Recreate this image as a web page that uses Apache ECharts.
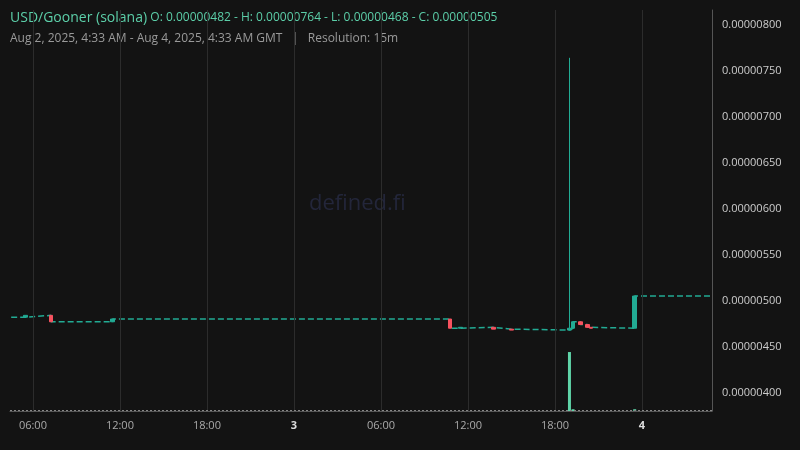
<!DOCTYPE html>
<html><head><meta charset="utf-8">
<script src="https://cdn.jsdelivr.net/npm/echarts@6/dist/echarts.min.js"></script>
<style>html,body{margin:0;background:#131313}#c{width:800px;height:450px}</style>
</head><body><div id="c"></div>
<script>
// candle events (15m candles where price moved): time, open, close, low, high
const candleTimes = ["2025-08-02T05:30:00Z","2025-08-02T07:15:00Z","2025-08-02T11:30:00Z","2025-08-03T10:45:00Z","2025-08-03T11:30:00Z","2025-08-03T13:45:00Z","2025-08-03T15:00:00Z","2025-08-03T19:00:00Z","2025-08-03T19:15:00Z","2025-08-03T19:45:00Z","2025-08-03T20:15:00Z","2025-08-03T20:30:00Z","2025-08-03T23:30:00Z"];
const opens  = [4.82,4.84,4.77,4.80,4.70,4.71,4.69,4.68,4.70,4.77,4.74,4.71,4.70];
const closes = [4.84,4.77,4.80,4.70,4.71,4.69,4.68,4.70,4.77,4.74,4.71,4.70,5.05];
const lows   = [4.82,4.77,4.77,4.70,4.70,4.69,4.68,4.68,4.70,4.74,4.71,4.70,4.70];
const highs  = [4.84,4.84,4.80,4.80,4.71,4.71,4.69,7.64,4.77,4.77,4.74,4.71,5.05];
const startTime = "2025-08-02T04:30:00Z", startPrice = 4.82;
const endTime = "2025-08-04T04:45:00Z";
const volTimes = ["2025-08-03T19:00:00Z","2025-08-03T19:15:00Z","2025-08-03T23:30:00Z"];
const volValues = [100,3,3];
const priceTicks = [4.0,4.5,5.0,5.5,6.0,6.5,7.0,7.5,8.0];
const timeTicks = ["2025-08-02T06:00:00Z","2025-08-02T12:00:00Z","2025-08-02T18:00:00Z","2025-08-03T00:00:00Z","2025-08-03T06:00:00Z","2025-08-03T12:00:00Z","2025-08-03T18:00:00Z","2025-08-04T00:00:00Z"];
const lastPrice = 5.05;

const S = 1e-6;
const T0 = new Date("2025-08-02T00:00:00Z").getTime();
const ts = s => (new Date(s).getTime() - T0) / 3600000;  // hours since Aug 2 00:00 GMT
const up = '#22ab94', down = '#f7525f';
const candles = candleTimes.map((t,i)=>[ts(t), opens[i]*S, closes[i]*S, lows[i]*S, highs[i]*S]);
const stepData = [[ts(startTime), startPrice*S]].concat(candleTimes.map((t,i)=>[ts(t), closes[i]*S])).concat([[ts(endTime), closes[closes.length-1]*S]]);
const fmt = v => (v).toFixed(8);
const chart = echarts.init(document.getElementById('c'));
chart.setOption({
  backgroundColor:'#131313', animation:false,
  graphic:[
    {type:'text', left:10, top:11, style:{text:'{a|USD/Gooner (solana)} {b|O: 0.00000482 - H: 0.00000764 - L: 0.00000468 - C: 0.00000505}', rich:{a:{fill:'#5ccfa9',fontSize:14,fontFamily:'Open Sans'},b:{fill:'#5ccfa9',fontSize:12,fontFamily:'Open Sans'}}}},
    {type:'text', left:10, top:33, style:{text:'Aug 2, 2025, 4:33 AM - Aug 4, 2025, 4:33 AM GMT   |   Resolution: 15m', fill:'#9a9a9a', fontSize:12, fontFamily:'Open Sans'}},
    {type:'text', left:309, top:193, z:-1, style:{text:'defined.fi', fill:'#23263a', fontSize:22, fontFamily:'Open Sans'}}
  ],
  grid:{left:10,right:88,top:10,bottom:39},
  xAxis:{type:'value', min:4.42, max:52.83,
    axisLine:{show:true,onZero:false,lineStyle:{color:'#555'}}, axisTick:{show:false}, splitLine:{show:false},
    axisLabel:{customValues:timeTicks.map(ts), color:'#aaa', fontSize:11, fontFamily:'Open Sans', margin:9,
      formatter:v=>{const d=new Date(T0+v*3600000);const h=d.getUTCHours();if(h===0)return '{b|'+d.getUTCDate()+'}';return String(h).padStart(2,'0')+':00';},
      rich:{b:{fontWeight:'bold',color:'#ddd',fontSize:11}}}},
  yAxis:[{type:'value', position:'right', min:3.8*S, max:8.16*S,
    axisLine:{show:true,lineStyle:{color:'#555'}}, axisTick:{show:false}, splitLine:{show:false},
    axisLabel:{customValues:priceTicks.map(v=>v*S), formatter:v=>fmt(v), color:'#ccc', fontSize:11, fontFamily:'Open Sans', margin:10}},
    {type:'value', min:0, max:680, show:false}],
  series:[
    {type:'line', step:'end', data:stepData, symbol:'none', lineStyle:{color:up,width:1.5,type:[6,3]}, z:2,
      markLine:{silent:true, symbol:'none', label:{show:false}, lineStyle:{color:'#2c2c2c',type:'solid',width:1},
        data:priceTicks.map(v=>({yAxis:v*S})).concat(timeTicks.map(t=>({xAxis:ts(t)})))}},
    {type:'candlestick', data:candles, barWidth:4, z:3,
      itemStyle:{color:up,color0:down,borderColor:up,borderColor0:down,borderWidth:1},
      markLine:{silent:true, symbol:'none', data:[{yAxis:lastPrice*S}], lineStyle:{color:up,type:[3,3],width:1},
        label:{position:'end', formatter:()=>fmt(lastPrice*S), backgroundColor:up, color:'#111', fontSize:11, padding:[3,4], distance:0}}},
    {type:'bar', yAxisIndex:1, data:volTimes.map((t,i)=>[ts(t),volValues[i]]), barWidth:3, itemStyle:{color:'#5fd4a8'}, z:1,
      markLine:{silent:true,symbol:'none',label:{show:false},data:[{yAxis:1}],lineStyle:{color:'#888',type:[2,2],width:1}}}
  ]
});
</script></body></html>
